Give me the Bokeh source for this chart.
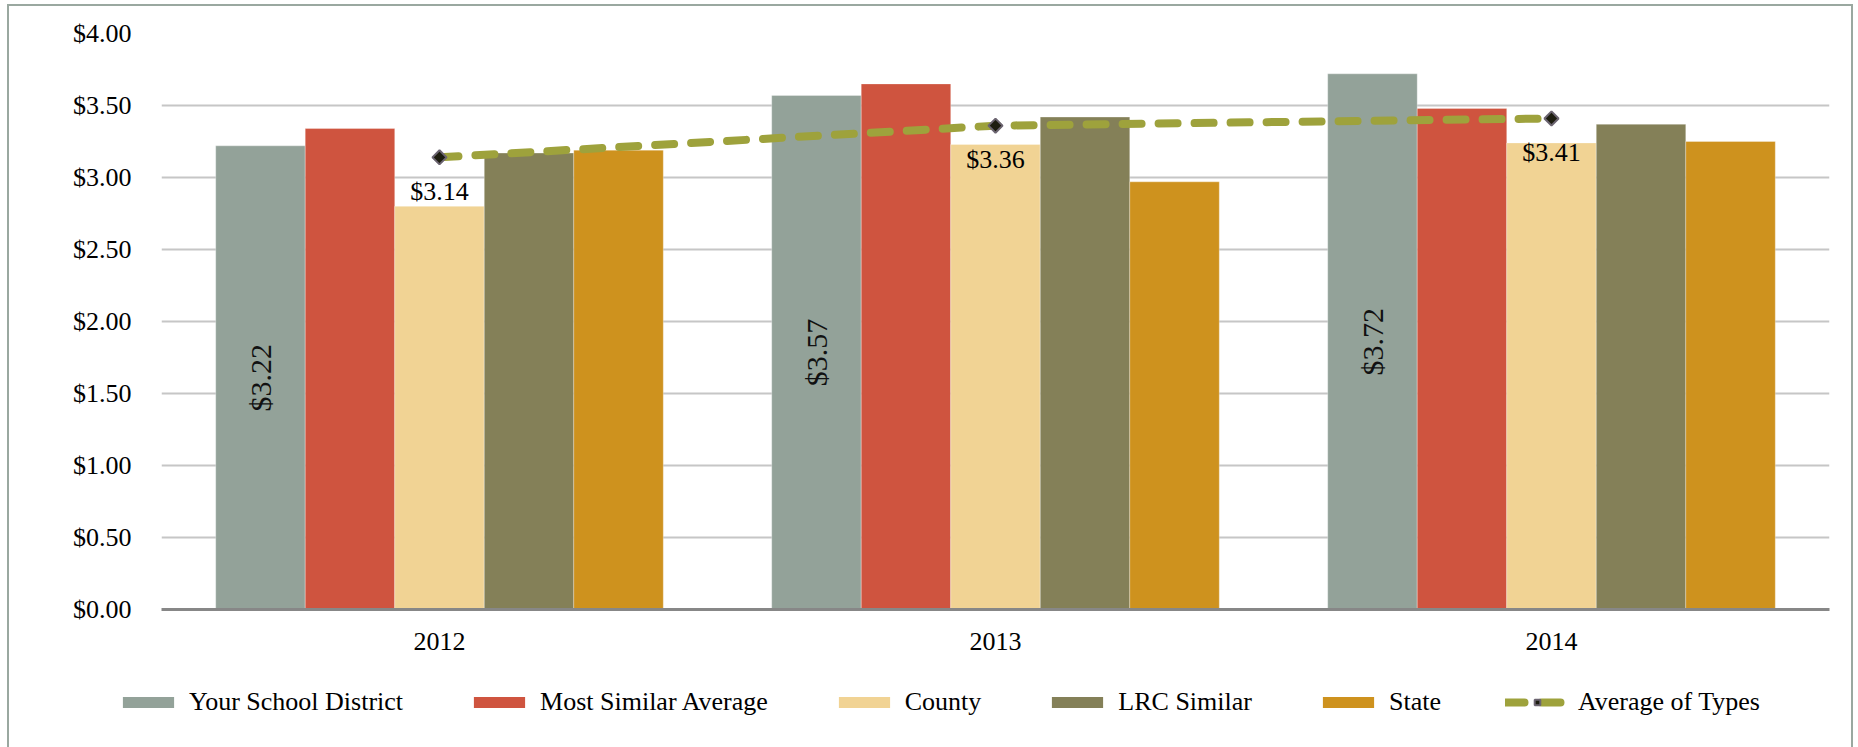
import numpy as np
from bokeh.plotting import figure
from bokeh.layouts import column
from bokeh.models import ColumnDataSource, Range1d, Legend, LegendItem, NumeralTickFormatter
from bokeh.transform import dodge
from bokeh.core.properties import value
from bokeh.embed import file_html
from bokeh.resources import INLINE

years = ["2012", "2013", "2014"]
your_district = [3.22, 3.57, 3.72]
most_similar = [3.34, 3.65, 3.48]
county = [2.80, 3.23, 3.24]
lrc_similar = [3.17, 3.42, 3.37]
state = [3.19, 2.97, 3.25]
avg_types = [3.14, 3.36, 3.41]

series_names = ["Your School District", "Most Similar Average", "County", "LRC Similar", "State"]
series_colors = ["#93a299", "#cf543f", "#f1d394", "#848058", "#ce921e"]
line_name = "Average of Types"
line_color = "#9ea23c"

FONT = "Liberation Serif"

src = ColumnDataSource(dict(
    year=years,
    s0=your_district, s1=most_similar, s2=county, s3=lrc_similar, s4=state,
    s0_half=[v / 2 for v in your_district],
    s0_lab=["$%.2f" % v for v in your_district],
    avg=avg_types,
    avg_lab=["$%.2f" % v for v in avg_types],
))

W = 1842
p = figure(x_range=years, y_range=Range1d(0, 4), width=W, height=663,
           output_backend="svg", toolbar_location=None,
           min_border_left=152, min_border_right=22, min_border_top=27, min_border_bottom=60)
p.outline_line_color = None
p.background_fill_color = "white"
p.frame_align = False

bw = 0.161
for i, col in enumerate(series_colors):
    p.vbar(x=dodge("year", (i - 2) * bw, range=p.x_range), top="s%d" % i, width=bw,
           source=src, fill_color=col, line_color="white", line_alpha=0.3, line_width=1)

# rotated labels in "Your School District" bars
p.text(x=dodge("year", -2 * bw, range=p.x_range), y="s0_half", text="s0_lab", source=src,
       angle=np.pi / 2, text_align="center", text_baseline="middle",
       text_font=value(FONT), text_font_size="30px", text_color="#111111")

line_kw = dict(line_color=line_color, line_width=8, line_dash="19 17", line_cap="round")
marker_kw = dict(marker="square", angle=np.pi / 4, size=10,
                 fill_color="#1d1d10", line_color="#6b6470", line_width=2)
p.line(x="year", y="avg", source=src, **line_kw)
p.scatter(x="year", y="avg", source=src, **marker_kw)
p.text(x="year", y="avg", text="avg_lab", source=src, y_offset=34,
       text_align="center", text_baseline="middle",
       text_font=value(FONT), text_font_size="26px", text_color="black")

# axes
p.yaxis.ticker = [0, 0.5, 1, 1.5, 2, 2.5, 3, 3.5, 4]
p.yaxis.formatter = NumeralTickFormatter(format="$0.00")
p.yaxis.axis_line_color = None
p.yaxis.major_tick_line_color = None
p.yaxis.minor_tick_line_color = None
p.yaxis.major_label_standoff = 24
p.yaxis.major_label_text_font = FONT
p.yaxis.major_label_text_font_size = "26px"
p.yaxis.major_label_text_color = "black"

p.xaxis.axis_line_color = "#878787"
p.xaxis.axis_line_width = 3
p.xaxis.major_tick_line_color = None
p.xaxis.major_label_standoff = 17
p.xaxis.major_label_text_font = FONT
p.xaxis.major_label_text_font_size = "26px"
p.xaxis.major_label_text_color = "black"

p.xgrid.grid_line_color = None
p.ygrid.grid_line_color = "#c6c6c6"
p.ygrid.grid_line_width = 2

# legend strip (its own small plot; its proxy glyphs sit outside the visible range)
pl = figure(x_range=(0, 1), y_range=(0, 1), width=W, height=78,
            output_backend="svg", toolbar_location=None,
            min_border_left=0, min_border_right=0, min_border_top=0, min_border_bottom=0)
pl.frame_align = False
pl.axis.visible = False
pl.grid.grid_line_color = None
pl.outline_line_color = None
items = []
for n, col in zip(series_names, series_colors):
    r = pl.vbar(x=[-10], top=[-5], width=0.1, fill_color=col, line_color=None)
    items.append(LegendItem(label=n, renderers=[r]))
lr = pl.line(x=[-10, -9], y=[-5, -5], **line_kw)
mr = pl.scatter(x=[-10], y=[-5], **marker_kw)
items.append(LegendItem(label=line_name, renderers=[lr, mr]))
legend = Legend(items=items, orientation="horizontal", location=(107, 30),
                glyph_width=64, glyph_height=14, label_standoff=9, spacing=64,
                padding=0, margin=0, border_line_color=None, background_fill_alpha=0,
                label_text_font=FONT, label_text_font_size="26px", label_text_color="black")
pl.add_layout(legend, "center")

layout = column(p, pl, spacing=0)
layout.styles = {"border-left": "2px solid #9aa8a0", "border-top": "2px solid #9aa8a0",
                 "border-right": "2px solid #9aa8a0", "margin-left": "7px", "margin-top": "4px"}

open("out.html", "w").write(file_html(layout, INLINE))
